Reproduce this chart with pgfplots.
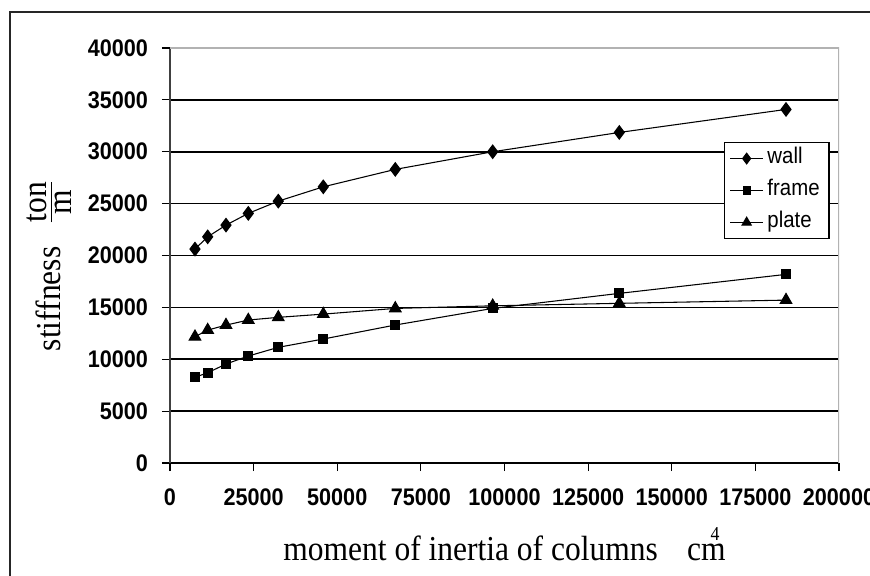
\documentclass[border=0pt]{standalone}
\usepackage{pgfplots}
\pgfplotsset{compat=1.18}
\usepackage{fontspec}
\setmainfont{Liberation Serif}
\newfontfamily\tickfont[FakeStretch=0.9]{Liberation Sans}
\newfontfamily\labelfont[FakeStretch=0.9]{Liberation Serif}
\newfontfamily\legfont[FakeStretch=0.9]{Liberation Sans}

\pgfplotstableread{
x wall frame plate
7470 20620 8260 12170
11270 21800 8700 12810
16740 22930 9540 13290
23410 24060 10310 13780
32380 25240 11150 14040
45830 26620 11950 14350
67350 28300 13300 14900
96470 30000 14900 15150
134320 31860 16350 15390
184160 34080 18180 15700
}\datatable

\begin{document}
\begin{tikzpicture}
\useasboundingbox (-127.5pt,-84pt) rectangle (525pt,347.25pt);
\fill[white] (-127.5pt,-84pt) rectangle (525pt,347.25pt);
\draw[line width=1.1pt, black!85] (-120pt,-90pt) -- (-120pt,338.25pt) -- (530pt,338.25pt);
\begin{axis}[
  at={(0pt,0pt)}, anchor=south west,
  scale only axis, width=501.75pt, height=311.25pt,
  xmin=0, xmax=200000, ymin=0, ymax=40000,
  xtick={0,25000,...,200000},
  ytick={0,5000,...,35000},
  extra y ticks={40000},
  extra y tick style={grid=none},
  scaled x ticks=false, scaled y ticks=false,
  /pgf/number format/fixed,
  /pgf/number format/1000 sep={},
  /pgf/number format/assume math mode=true,
  axis x line*=bottom, axis y line*=left,
  x axis line style={black, line width=1.2pt},
  y axis line style={black!75, line width=1pt},
  tick align=outside,
  major tick length=6pt,
  major tick style={black, line width=0.8pt},
  ymajorgrids,
  grid style={black, line width=1.3pt},
  ticklabel style={font=\fontsize{18}{20}\tickfont\bfseries},
  xticklabel style={yshift=-10pt},
  yticklabel style={xshift=-7pt},
  xlabel={moment of inertia of columns\hspace{22pt}cm\llap{\raisebox{15pt}{\fontsize{14.8}{15}\labelfont 4}\kern4.5pt}},
  xlabel style={at={(axis description cs:0.5,0)}, anchor=base, yshift=-72.75pt, font=\fontsize{26.25}{28}\labelfont},
  ylabel={stiffness\hspace{17pt}$\frac{\hbox{\labelfont ton}}{\hbox{\labelfont m}}$},
  ylabel style={at={(axis description cs:-0.1644,0.475)}, anchor=base, font=\fontsize{26.25}{28}\labelfont},
  legend style={at={(axis description cs:0.828,0.7735)}, anchor=north west, draw=black, line width=0.8pt,
    font=\fontsize{17}{19}\legfont, inner sep=4pt, row sep=8pt,
    nodes={inner ysep=1pt, inner xsep=3pt, text height=11pt, text depth=3pt}},
  legend cell align=left,
  legend image code/.code={\draw[mark repeat=2,mark phase=2,#1,/tikz/every mark/.append style={scale=0.8}] plot coordinates {(0cm,0cm) (0.43cm,0cm) (0.86cm,0cm)};},
]
\addplot[black, line width=0.8pt, mark=diamond*, mark size=5pt, mark options={solid}] table[x=x,y=wall] {\datatable};
\addlegendentry{wall}
\addplot[black, line width=0.8pt, mark=square*, mark size=3.3pt, mark options={solid}] table[x=x,y=frame] {\datatable};
\addlegendentry{frame}
\addplot[black, line width=0.8pt, mark=triangle*, mark size=5pt, mark options={solid}] table[x=x,y=plate] {\datatable};
\addlegendentry{plate}
\draw[gray!60, line width=0.8pt] (rel axis cs:0,1) -- (rel axis cs:1,1) -- (rel axis cs:1,0);
\end{axis}
\end{tikzpicture}
\end{document}
